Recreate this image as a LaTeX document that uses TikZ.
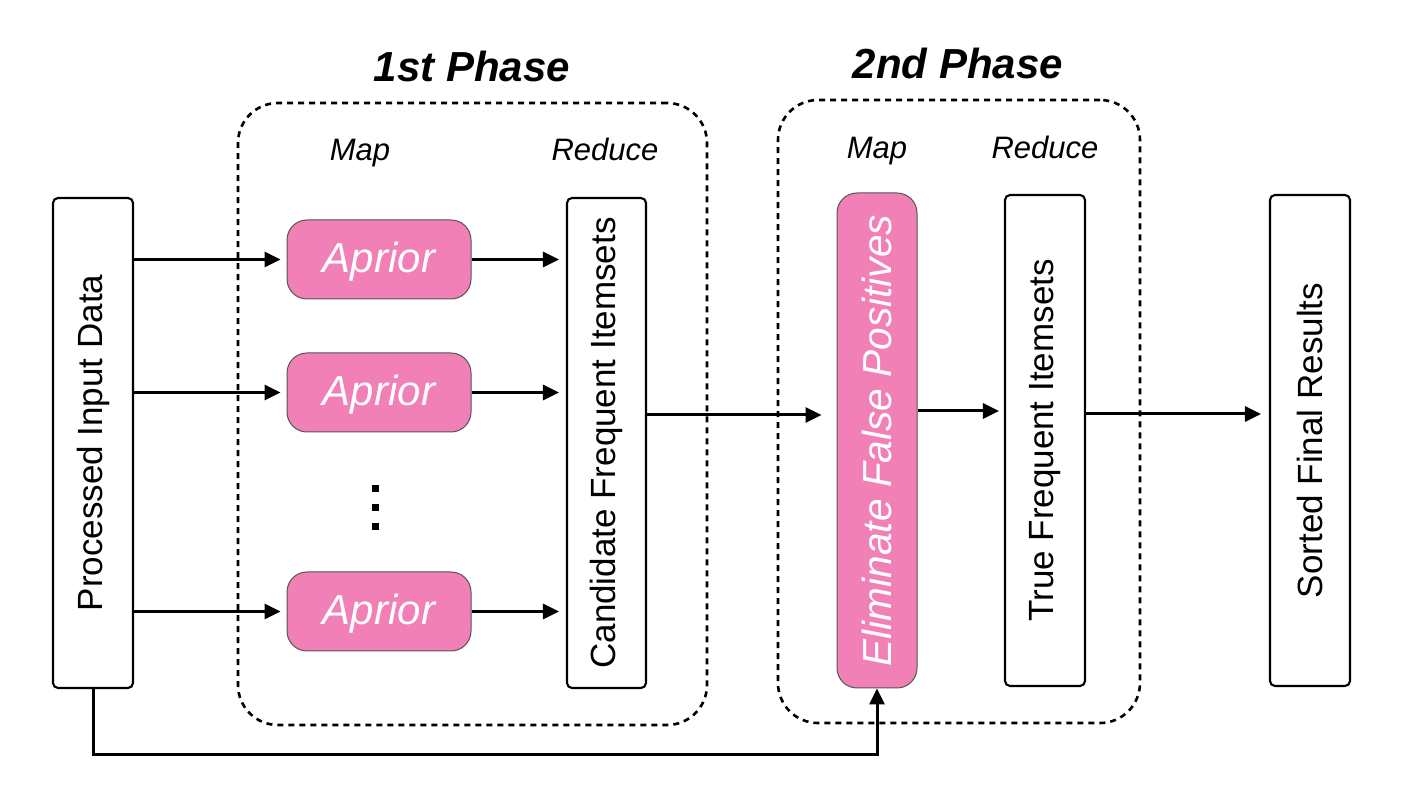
\documentclass[tikz,border=0pt]{standalone}
\usepackage{fontspec}
\setmainfont{Liberation Sans}
\usepackage{graphicx}
\usetikzlibrary{arrows.meta}
\definecolor{pinkfill}{RGB}{240,128,182}
\definecolor{pinkedge}{RGB}{85,85,85}
\begin{document}
\begin{tikzpicture}[x=0.5pt,y=-0.5pt,
  whitebox/.style={draw=black, line width=1.05pt, rounded corners=2.5pt, fill=white,
    minimum width=40pt, inner sep=0pt, font=\fontsize{17.5}{20}\selectfont},
  pinkbox/.style={draw=pinkedge, line width=0.5pt, fill=pinkfill, rounded corners=10pt,
    inner sep=0pt, text=white, font=\fontsize{21}{24}\selectfont\itshape},
  aprbox/.style={pinkbox, minimum width=92pt, minimum height=39.5pt, text height=15pt, text depth=1.6pt},
  phasebox/.style={draw=black, dash pattern=on 3pt off 2.5pt, line width=1.3pt,
    rounded corners=20pt, inner sep=0pt},
  arr/.style={-{Triangle[length=8pt,width=7.5pt]}, line width=1.5pt},
  lbl/.style={font=\fontsize{15.5}{18}\selectfont\itshape, anchor=base},
  ttl/.style={font=\fontsize{21}{24}\selectfont\bfseries\itshape, anchor=base}
]
\useasboundingbox (0,0) rectangle (1410,812);

% phase frames
\node[phasebox, minimum width=234.5pt, minimum height=311pt] (p1) at (472.5,414) {};
\node[phasebox, minimum width=181pt, minimum height=311.5pt] (p2) at (959,411.5) {};

% titles and labels
\node[ttl] (t1) at (472,82) {1st Phase};
\node[ttl] (t2) at (958,79) {2nd Phase};
\node[lbl] (m1) at (360,161) {Map};
\node[lbl] (r1) at (605,161) {Reduce};
\node[lbl] (m2) at (877,159) {Map};
\node[lbl] (r2) at (1045,159) {Reduce};

% boxes
\node[whitebox, minimum height=245pt] (pid) at (93,443) {\rotatebox{90}{Processed Input Data}};
\node[aprbox] (ap1) at (379,259.5) {Aprior};
\node[aprbox] (ap2) at (379,392.5) {Aprior};
\node[aprbox] (ap3) at (379,611.5) {Aprior};
\node[whitebox, minimum width=39.5pt, minimum height=245pt] (cfi) at (606.5,443) {\rotatebox{90}{Candidate Frequent Itemsets}};
\node[pinkbox, font=\fontsize{20.3}{24}\selectfont\itshape, minimum width=40pt, minimum height=247.5pt] (efp) at (877,440.5) {\rotatebox{90}{Eliminate False Positives}};
\node[whitebox, minimum height=245.5pt] (tfi) at (1045,440.5) {\rotatebox{90}{True Frequent Itemsets}};
\node[whitebox, minimum height=245.5pt] (sfr) at (1310,440.5) {\rotatebox{90}{Sorted Final Results}};

% vertical dots
\fill (372,485) rectangle (379,492);
\fill (372,504) rectangle (379,511);
\fill (372,523) rectangle (379,530);

% connectors
\foreach \a in {ap1,ap2,ap3}{
  \draw[arr, shorten >=3pt] (\a.west -| pid.east) -- (\a.west);
  \draw[arr, shorten >=3.5pt] (\a.east) -- (\a.east -| cfi.west);
}
\draw[arr, shorten >=7.5pt] ([yshift=14pt]cfi.east) -- ([yshift=14pt]cfi.east -| efp.west);
\draw[arr, shorten >=2.5pt] ([yshift=14.75pt]efp.east) -- ([yshift=14.75pt]efp.east -| tfi.west);
\draw[arr, shorten >=4pt] ([yshift=13.25pt]tfi.east) -- ([yshift=13.25pt]tfi.east -| sfr.west);
\coordinate (bend) at (93,755);
\draw[arr] (pid.south) -- (bend) -| (efp.south);
\end{tikzpicture}
\end{document}
